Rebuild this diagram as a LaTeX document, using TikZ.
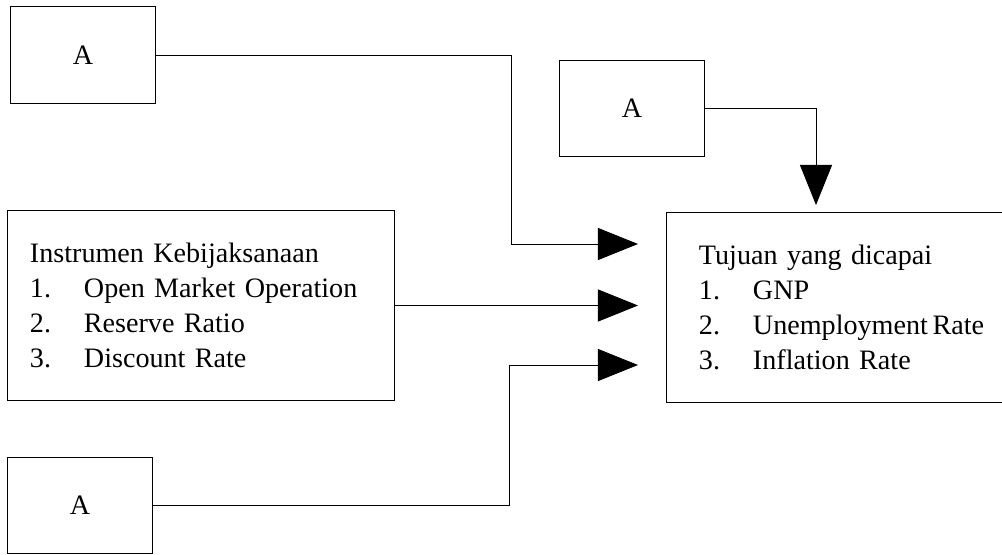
\documentclass[tikz,border=0pt]{standalone}
\usepackage{fontspec}
\setmainfont{Liberation Serif}
\usetikzlibrary{arrows.meta,positioning,calc}
\newcommand{\numitem}[2]{\makebox[1.35cm][l]{#1}#2}

\begin{document}
\begin{tikzpicture}[x=0.025cm, y=-0.025cm,
            every node/.style={font=\fontsize{20}{24.8}\selectfont},
            box node/.style={draw, line width=0.7pt, inner sep=0pt},
            small box/.style={box node, minimum width=3.6cm, minimum height=2.4cm},
            list box/.style={box node, align=left, minimum height=4.725cm},
            flow/.style={line width=0.7pt, -{Triangle[length=1cm,width=0.8cm]}}]

        \useasboundingbox (0,0) rectangle (1002,554);

        % boxes
        \node[small box] (A1) at (83,55) {A};
        \node[small box] (A2) at (632,108) {A};
        \node[small box] (A3) at (80,505) {A};
        \node[list box, inner xsep=0.55cm, text width=8.55cm] (Instr) at (201,305.5)
            {Instrumen Kebijaksanaan\\
             \numitem{1.}{Open Market Operation}\\
             \numitem{2.}{Reserve Ratio}\\
             \numitem{3.}{Discount Rate}};
        \node[list box, inner xsep=0.8cm, text width=7.5cm] (Goal) at (849,307.5)
            {Tujuan yang dicapai\\
             \numitem{1.}{GNP}\\
             \numitem{2.}{Unemployment\,Rate}\\
             \numitem{3.}{Inflation Rate}};

        % arrow tips and bends
        \coordinate (c1) at (511,244);
        \coordinate (t1) at (638,244);
        \coordinate (c3) at (509,365);
        \coordinate (t3) at (638,365);
        \coordinate (t4) at (816,205);

        \draw[flow] (A1.east) -| (c1) -- (t1);
        \draw[flow] (Instr.east) -- (Instr.east -| t1);
        \draw[flow] (A3.east) -| (c3) -- (t3);
        \draw[flow] (A2.east) -| (t4);
\end{tikzpicture}
\end{document}
